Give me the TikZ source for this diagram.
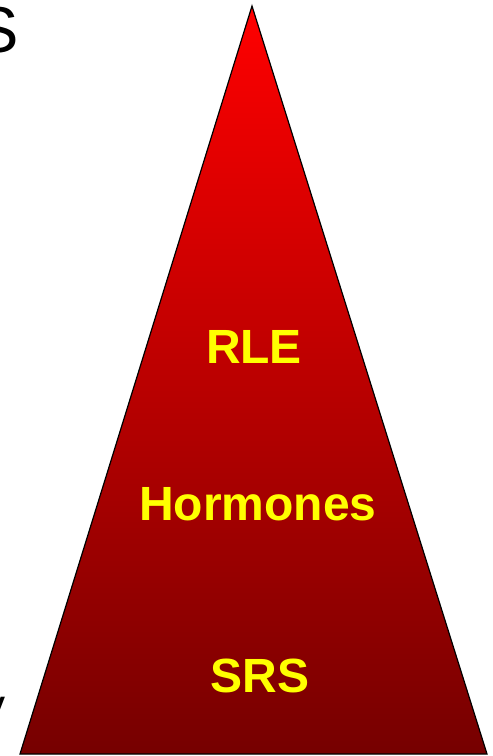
\documentclass[tikz,border=0pt]{standalone}
\usepackage{fontspec}
\setmainfont{Liberation Sans}
\definecolor{topred}{RGB}{255,0,0}
\definecolor{botred}{RGB}{118,0,0}
\definecolor{labelyellow}{RGB}{255,255,0}
\begin{document}
\begin{tikzpicture}[x=1pt,y=-1pt,
  lbl/.style={font=\fontsize{48}{48}\selectfont\bfseries, text=labelyellow, inner sep=0pt, anchor=base},
  cutoff/.style={font=\fontsize{65}{65}\selectfont, text=black, inner sep=0pt}]
\useasboundingbox (0,0) rectangle (493,756);
\clip (0,0) rectangle (493,756);
\fill[white] (0,0) rectangle (493,756);
\coordinate (apex) at (252,6);
\coordinate (bl) at (20,754);
\coordinate (br) at (487,754);
\shade[top color=topred, bottom color=botred] (apex) -- (br) -- (bl) -- cycle;
\draw[black, line width=1.2pt, line join=miter] (apex) -- (br) -- (bl) -- cycle;
\node[lbl] (rle) at (254,363) {RLE};
\node[lbl] (hormones) at (258,520) {Hormones};
\node[lbl] (srs) at (260,692) {SRS};
\node[cutoff, anchor=base east] (sletter) at (19,52) {S};
\node[cutoff, font=\fontsize{46}{46}\selectfont, anchor=base east] (yletter) at (6,721) {y};
\end{tikzpicture}
\end{document}
